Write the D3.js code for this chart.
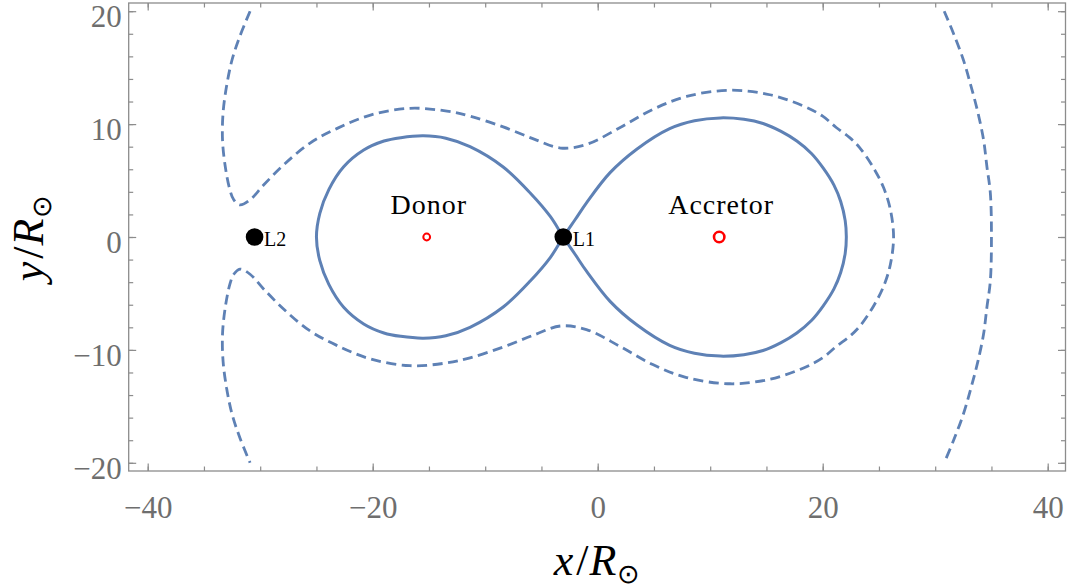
<!DOCTYPE html>
<html>
<head>
<meta charset="utf-8">
<script src="https://cdn.jsdelivr.net/npm/d3@7"></script>
<style>
  body { margin: 0; background: #fff; }
  svg { display: block; }
  .tickLabel { font-family: "Liberation Serif", serif; font-size: 31px; fill: #6e6e6e; }
  .axisTitle { font-family: "Liberation Serif", serif; font-size: 44px; fill: #000; }
  .annot { font-family: "Liberation Serif", serif; fill: #000; }
</style>
</head>
<body>
<div id="chart"></div>
<script>
// Critical Roche lobe (figure-eight), in units of R_sun
var rocheLobe = [
  [-3.06, 0], [-2.0, 1.55], [-0.98, 3.05], [1.1, 5.7], [3.5, 7.8], [6.4, 9.6], [8.6, 10.3],
  [10.9, 10.55], [13.0, 10.42], [14.7, 10.05], [16.3, 9.35], [17.7, 8.5], [19.0, 7.4],
  [20.05, 6.1], [21.0, 4.6], [21.6, 3.15], [22.0, 1.45], [22.1, 0],
  [22.0, -1.45], [21.6, -3.15], [21.0, -4.6], [20.05, -6.1], [19.0, -7.4], [17.7, -8.5],
  [16.3, -9.35], [14.7, -10.05], [13.0, -10.42], [10.9, -10.55], [8.6, -10.3], [6.4, -9.6],
  [3.5, -7.8], [1.1, -5.7], [-0.98, -3.05], [-2.0, -1.55],
  [-3.06, 0], [-4.2, 1.8], [-6.0, 3.9], [-8.4, 6.2], [-11.35, 8.0], [-13.5, 8.75],
  [-15.5, 8.96], [-17.5, 8.8], [-19.0, 8.5], [-20.8, 7.7], [-22.6, 6.2], [-23.9, 4.2],
  [-24.7, 2.1], [-25.0, 0], [-24.7, -2.1], [-23.9, -4.2], [-22.6, -6.2], [-20.8, -7.7],
  [-19.0, -8.5], [-17.5, -8.8], [-15.5, -8.96], [-13.5, -8.75], [-11.35, -8.0],
  [-8.4, -6.2], [-6.0, -3.9], [-4.2, -1.8]
];

// Outer equipotential (dashed), open at the L2 side
var outerContour = [
  [-30.9, 20], [-31.8, 17.8], [-32.5, 15.7], [-33.0, 13.3], [-33.3, 11.0], [-33.35, 8.6],
  [-33.1, 6.2], [-32.7, 4.2], [-32.35, 3.3], [-31.8, 2.84], [-30.9, 3.3], [-29.7, 4.6],
  [-27.9, 6.4], [-25.6, 8.3], [-23.2, 9.6], [-20.2, 10.8], [-16.7, 11.4], [-13.4, 11.15],
  [-11.35, 10.7], [-8.4, 9.75], [-5.6, 8.65], [-3.3, 7.88], [-1.0, 8.2], [2.0, 9.7],
  [4.9, 11.3], [7.9, 12.45], [11.8, 13.0], [15.3, 12.6], [18.3, 11.6], [20.0, 10.7],
  [21.2, 9.7], [22.4, 8.8], [23.3, 7.9], [24.5, 6.15], [25.4, 4.4], [26.0, 2.5], [26.3, 0],
  [26.0, -2.5], [25.4, -4.4], [24.5, -6.15], [23.3, -7.9], [22.4, -8.8], [21.2, -9.7],
  [20.0, -10.7], [18.3, -11.6], [15.3, -12.6], [11.8, -13.0], [7.9, -12.45], [4.9, -11.3],
  [2.0, -9.7], [-1.0, -8.2], [-3.3, -7.88], [-5.6, -8.65], [-8.4, -9.75], [-11.35, -10.7],
  [-13.4, -11.15], [-16.7, -11.4], [-20.2, -10.8], [-23.2, -9.6], [-25.6, -8.3],
  [-27.9, -6.4], [-29.7, -4.6], [-30.9, -3.3], [-31.8, -2.84], [-32.35, -3.3], [-32.7, -4.2],
  [-33.1, -6.2], [-33.35, -8.6], [-33.3, -11.0], [-33.0, -13.3], [-32.5, -15.7],
  [-31.8, -17.8], [-30.9, -20]
];

// Far branch of the same equipotential, beyond the accretor
var farContour = [
  [30.8, 20], [31.6, 18.1], [32.5, 15.7], [33.2, 13.3], [33.8, 11.0], [34.3, 8.6],
  [34.6, 6.2], [34.9, 3.9], [35.0, 0], [34.9, -3.9], [34.6, -6.2], [34.3, -8.6],
  [33.8, -11.0], [33.2, -13.3], [32.5, -15.7], [31.6, -18.1], [30.8, -20]
];

// Stars and Lagrange points (x positions on the y = 0 axis)
var starNames = ['Donor', 'Accretor'];
var starX = [-15.2, 10.8];
var lagrangeNames = ['L1', 'L2'];
var lagrangeX = [-3.06, -30.5];

// Tick values
var xMajorTicks = [-40, -20, 0, 20, 40];
var xMinorTicks = d3.range(-40, 41, 5);
var yMajorTicks = [-20, -10, 0, 10, 20];
var yMinorTicks = d3.range(-20, 21, 2);

var svgWidth = 1068, svgHeight = 588;

// Frame box (pixels)
var frame = { left: 128.7, right: 1065.5, top: 3, bottom: 471 };

var svg = d3.select('#chart')
  .append('svg')
    .attr('width', svgWidth)
    .attr('height', svgHeight);

var xScale = d3.scaleLinear().domain([-40, 40]).range([147.7, 1047.7]);
var yScale = d3.scaleLinear().domain([-20, 20]).range([462.8, 11.2]);

var frameColor = '#8c8c8c';

// Frame
svg.append('rect')
  .attr('x', frame.left)
  .attr('y', frame.top)
  .attr('width', frame.right - frame.left)
  .attr('height', frame.bottom - frame.top)
  .attr('fill', 'none')
  .attr('stroke', frameColor)
  .attr('stroke-width', 1.3);

// Ticks on one side of the frame, drawn with a d3 axis pointing inwards
function drawTicks(axisFn, scale, values, size, translate, labelled) {
  var axis = axisFn(scale).tickValues(values).tickSize(-size);
  if (!labelled) axis.tickFormat('');
  var g = svg.append('g')
    .attr('transform', translate)
    .call(axis);
  g.select('.domain').remove();
  g.selectAll('.tick line').attr('stroke', frameColor).attr('stroke-width', 1.2);
  return g;
}

// bottom
drawTicks(d3.axisBottom, xScale, xMinorTicks, 4.5, 'translate(0,' + frame.bottom + ')', false);
var bx = drawTicks(d3.axisBottom, xScale, xMajorTicks, 7.5, 'translate(0,' + frame.bottom + ')', true);
bx.selectAll('.tick text').attr('y', 25);
// top
drawTicks(d3.axisTop, xScale, xMinorTicks, 4.5, 'translate(0,' + frame.top + ')', false);
drawTicks(d3.axisTop, xScale, xMajorTicks, 7.5, 'translate(0,' + frame.top + ')', false);
// left
drawTicks(d3.axisLeft, yScale, yMinorTicks, 4.5, 'translate(' + frame.left + ',0)', false);
var ly = drawTicks(d3.axisLeft, yScale, yMajorTicks, 7.5, 'translate(' + frame.left + ',0)', true);
ly.selectAll('.tick text').attr('x', -7).attr('dy', '0.5em');
// right
drawTicks(d3.axisRight, yScale, yMinorTicks, 4.5, 'translate(' + frame.right + ',0)', false);
drawTicks(d3.axisRight, yScale, yMajorTicks, 7.5, 'translate(' + frame.right + ',0)', false);

svg.selectAll('g').attr('font-family', null).attr('font-size', null);
svg.selectAll('.tick text')
  .attr('class', 'tickLabel')
  .attr('font-family', 'Liberation Serif')
  .attr('fill', null);

// Contours
var line = d3.line()
  .x(function(d) { return xScale(d[0]); })
  .y(function(d) { return yScale(d[1]); });

var curveColor = '#5e81b5';

[outerContour, farContour].forEach(function(c) {
  svg.append('path')
    .datum(c)
    .attr('d', line.curve(d3.curveCatmullRom.alpha(0.5)))
    .attr('fill', 'none')
    .attr('stroke', curveColor)
    .attr('stroke-width', 2.8)
    .attr('stroke-dasharray', '10,5.5');
});

svg.append('path')
  .datum(rocheLobe)
  .attr('d', line.curve(d3.curveCatmullRomClosed.alpha(0.5)))
  .attr('fill', 'none')
  .attr('stroke', curveColor)
  .attr('stroke-width', 3);

// Lagrange points
var lagrange = lagrangeNames.map(function(n, i) { return { name: n, x: lagrangeX[i] }; });

svg.selectAll('.lpoint')
  .data(lagrange)
  .enter()
  .append('circle')
    .attr('class', 'lpoint')
    .attr('cx', function(d) { return xScale(d.x); })
    .attr('cy', yScale(0))
    .attr('r', 8.8)
    .attr('fill', '#000');

svg.selectAll('.llabel')
  .data(lagrange)
  .enter()
  .append('text')
    .attr('class', 'annot llabel')
    .attr('x', function(d) { return xScale(d.x) + 9.5; })
    .attr('y', yScale(0) + 9)
    .attr('font-size', 20)
    .text(function(d) { return d.name; });

// Stars
var stars = starNames.map(function(n, i) { return { name: n, x: starX[i] }; });
var starRadius = [3.4, 5.2];
var starStroke = [2, 2.6];

svg.selectAll('.star')
  .data(stars)
  .enter()
  .append('circle')
    .attr('class', 'star')
    .attr('cx', function(d) { return xScale(d.x); })
    .attr('cy', yScale(0))
    .attr('r', function(d, i) { return starRadius[i]; })
    .attr('fill', '#fff')
    .attr('stroke', '#ff0000')
    .attr('stroke-width', function(d, i) { return starStroke[i]; });

svg.selectAll('.slabel')
  .data(stars)
  .enter()
  .append('text')
    .attr('class', 'annot slabel')
    .attr('x', function(d) { return xScale(d.x) + 2; })
    .attr('y', yScale(0) - 23)
    .attr('text-anchor', 'middle')
    .attr('font-size', 28)
    .attr('letter-spacing', 1)
    .text(function(d) { return d.name; });

// Axis titles: v / R_sun
function axisTitle(g, v) {
  g.append('tspan').attr('font-style', 'italic').text(v);
  g.append('tspan').attr('dx', 3).text('/');
  g.append('tspan').attr('dx', 1).attr('font-style', 'italic').text('R');
  g.append('tspan').attr('font-size', 27).attr('dx', 1).attr('dy', 8).text('\u2299');
}

var xt = svg.append('text')
  .attr('class', 'axisTitle')
  .attr('x', 597)
  .attr('y', 575)
  .attr('text-anchor', 'middle');
axisTitle(xt, 'x');

var yt = svg.append('text')
  .attr('class', 'axisTitle')
  .attr('transform', 'translate(43,238) rotate(-90)')
  .attr('text-anchor', 'middle');
axisTitle(yt, 'y');
</script>
</body>
</html>
